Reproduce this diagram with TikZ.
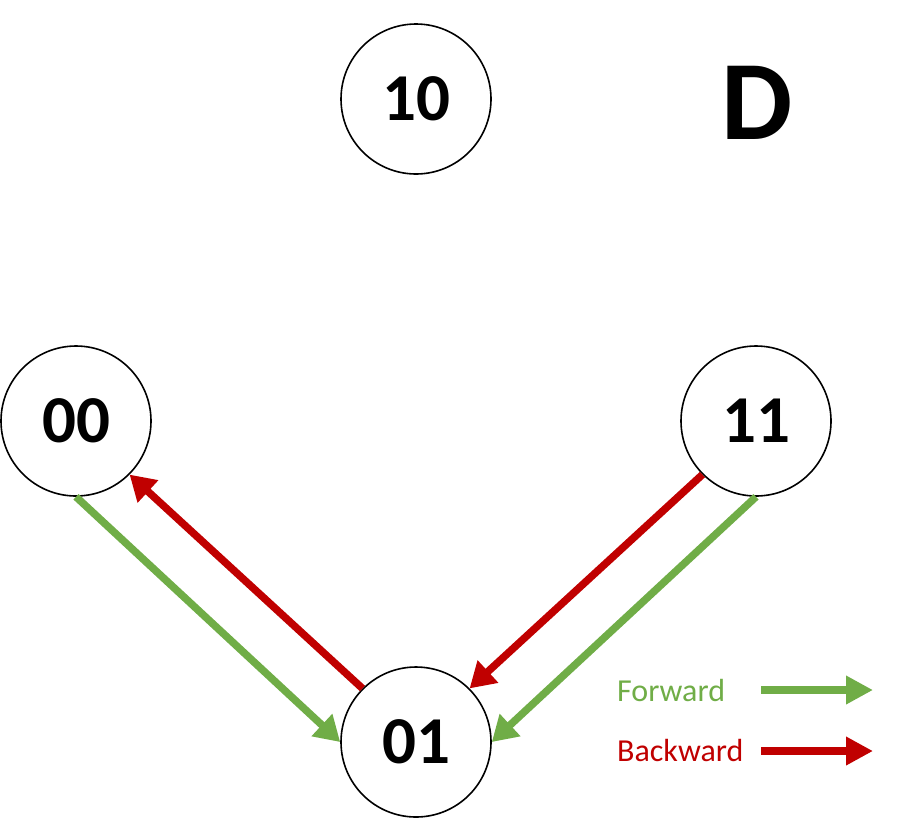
\documentclass[tikz,border=0pt]{standalone}
\usepackage{fontspec}
\setmainfont{Carlito}
\usetikzlibrary{arrows.meta}
\definecolor{fwd}{HTML}{70AD47}
\definecolor{bwd}{HTML}{C00000}
\begin{document}
\begin{tikzpicture}[x=1pt,y=-1pt,
  state/.style={draw=black,line width=1.6pt,circle,minimum size=150pt,inner sep=0pt,
    font=\fontsize{67}{67}\selectfont\bfseries},
  fwdarrow/.style={draw=fwd,line width=7.5pt,-{Triangle[length=25pt,width=29pt]}},
  bwdarrow/.style={draw=bwd,line width=7.5pt,-{Triangle[length=25pt,width=29pt]}},
  legtext/.style={inner sep=0pt,anchor=base west,font=\fontsize{32}{32}\selectfont}
]
\useasboundingbox (0,0) rectangle (901,823);
\node[state] (n10) at (416,99) {10};
\node[state] (n00) at (76,421) {00};
\node[state] (n11) at (756,421) {11};
\node[state] (n01) at (416,742) {01};
\node[inner sep=0pt,font=\fontsize{113}{113}\selectfont\bfseries] (D) at (757,103) {D};

\draw[fwdarrow] (n00.south) -- (n01.west);
\draw[bwdarrow] (n01.135) -- (n00.-45);
\draw[bwdarrow] (n11.225) -- (n01.45);
\draw[fwdarrow] (n11.south) -- (n01.east);

\node[legtext,text=fwd] (lf) at (617,701) {Forward};
\node[legtext,text=bwd] (lb) at (617,761) {Backward};
\coordinate (fa) at (761,690);
\coordinate (fb) at (873,690);
\coordinate (ba) at (761,751);
\coordinate (bb) at (873,751);
\draw[draw=fwd,line width=8.5pt,-{Triangle[length=27pt,width=27pt]}] (fa) -- (fb);
\draw[draw=bwd,line width=8.5pt,-{Triangle[length=27pt,width=27pt]}] (ba) -- (bb);
\end{tikzpicture}
\end{document}
